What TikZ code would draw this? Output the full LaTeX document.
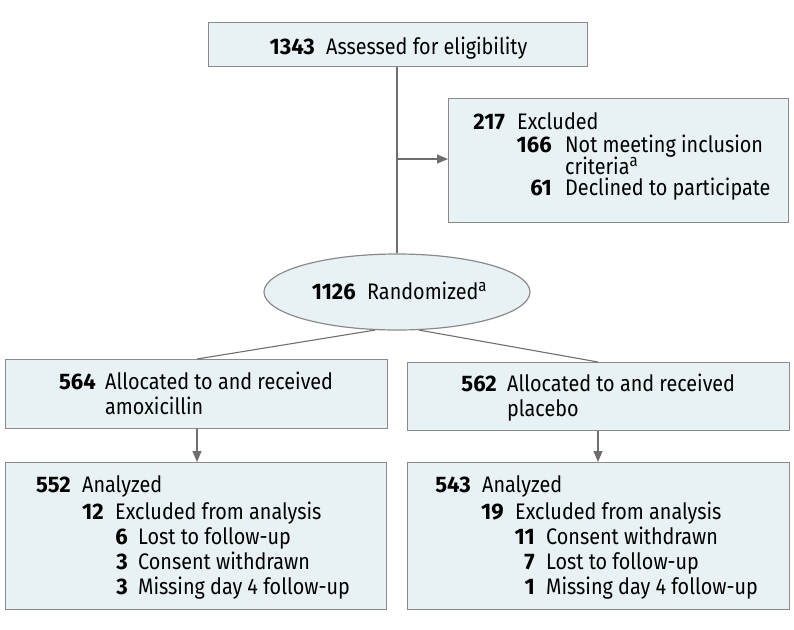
\documentclass[tikz,border=0pt]{standalone}
\usepackage{fontspec}
\setmainfont[FakeStretch=0.88,BoldFeatures={FakeStretch=0.98}]{Fira Sans}
\usetikzlibrary{arrows.meta,shapes.geometric}
\definecolor{boxfill}{HTML}{E8F2F4}
\definecolor{boxline}{HTML}{8A8A8A}
\definecolor{conn}{HTML}{6E6E6E}
\newcommand{\supa}{\raisebox{0.6ex}{\fontsize{17}{17}\selectfont a}}
\begin{document}
\begin{tikzpicture}[x=1pt,y=-1pt,
  box/.style={draw=boxline,fill=boxfill,line width=1.2pt,inner sep=0pt,anchor=north west},
  num/.style={anchor=base east,inner sep=0pt,font=\fontsize{22.5}{24}\selectfont\bfseries},
  txt/.style={anchor=base west,inner sep=0pt,font=\fontsize{22.5}{24}\selectfont},
  conline/.style={draw=conn,line width=1.1pt},
  arr/.style={conline,-{Triangle[length=11pt,width=9pt]}}]
\useasboundingbox (0,0) rectangle (794,629);
% boxes
\node[box,minimum width=379pt,minimum height=44pt] (top) at (208,22) {};
\node[box,minimum width=340pt,minimum height=124pt] (excl) at (448,98) {};
\node[draw=boxline,fill=boxfill,line width=1.2pt,ellipse,minimum width=266pt,minimum height=76pt,inner sep=0pt] (rand) at (397,292) {};
\node[box,minimum width=382pt,minimum height=69pt] (allocL) at (5,359) {};
\node[box,minimum width=382pt,minimum height=68pt] (allocR) at (407,362) {};
\node[box,minimum width=381pt,minimum height=147pt] (anaL) at (5,462) {};
\node[box,minimum width=382pt,minimum height=147pt] (anaR) at (407,462) {};
% connectors
\coordinate (jn) at (397,159);
\draw[conline] (top.south -| jn) -- (rand.north);
\draw[arr] (jn) -- (excl.west |- jn);
\draw[conline] (rand.240) -- (allocL.north -| 197,0);
\draw[conline] (rand.300) -- (allocR.north -| 598,0);
\draw[arr] (allocL.south -| 197,0) -- (anaL.north -| 197,0);
\draw[arr] (allocR.south -| 598,0) -- (anaR.north -| 598,0);
% texts
\node[num] (t1n) at (315,54) {1343};
\node[txt] (t1t) at (326,54) {Assessed for eligibility};
\node[num] (e1n) at (505,129) {217};
\node[txt] (e1t) at (517,129) {Excluded};
\node[num] (e2n) at (552,152) {166};
\node[txt] (e2t) at (565,152) {Not meeting inclusion};
\node[txt] (e3t) at (565,174) {criteria\supa};
\node[num] (e4n) at (552,195) {61};
\node[txt] (e4t) at (565,195) {Declined to participate};
\node[num] (r1n) at (356,299) {1126};
\node[txt] (r1t) at (367,299) {Randomized\supa};
\node[num] (l1n) at (96,389) {564};
\node[txt] (l1t) at (105,389) {Allocated to and received};
\node[txt] (l2t) at (105,414) {amoxicillin};
\node[num] (p1n) at (497,391) {562};
\node[txt] (p1t) at (507,391) {Allocated to and received};
\node[txt] (p2t) at (507,416) {placebo};
\node[num] (a1n) at (71,492) {552};
\node[txt] (a1t) at (82,492) {Analyzed};
\node[num] (a2n) at (104,519) {12};
\node[txt] (a2t) at (115,519) {Excluded from analysis};
\node[num] (a3n) at (128,544) {6};
\node[txt] (a3t) at (138,544) {Lost to follow-up};
\node[num] (a4n) at (128,569) {3};
\node[txt] (a4t) at (138,569) {Consent withdrawn};
\node[num] (a5n) at (128,594) {3};
\node[txt] (a5t) at (138,594) {Missing day 4 follow-up};
\node[num] (b1n) at (471,492) {543};
\node[txt] (b1t) at (482,492) {Analyzed};
\node[num] (b2n) at (504,519) {19};
\node[txt] (b2t) at (515,519) {Excluded from analysis};
\node[num] (b3n) at (535,544) {11};
\node[txt] (b3t) at (546,544) {Consent withdrawn};
\node[num] (b4n) at (535,569) {7};
\node[txt] (b4t) at (546,569) {Lost to follow-up};
\node[num] (b5n) at (535,594) {1};
\node[txt] (b5t) at (546,594) {Missing day 4 follow-up};
\end{tikzpicture}
\end{document}
